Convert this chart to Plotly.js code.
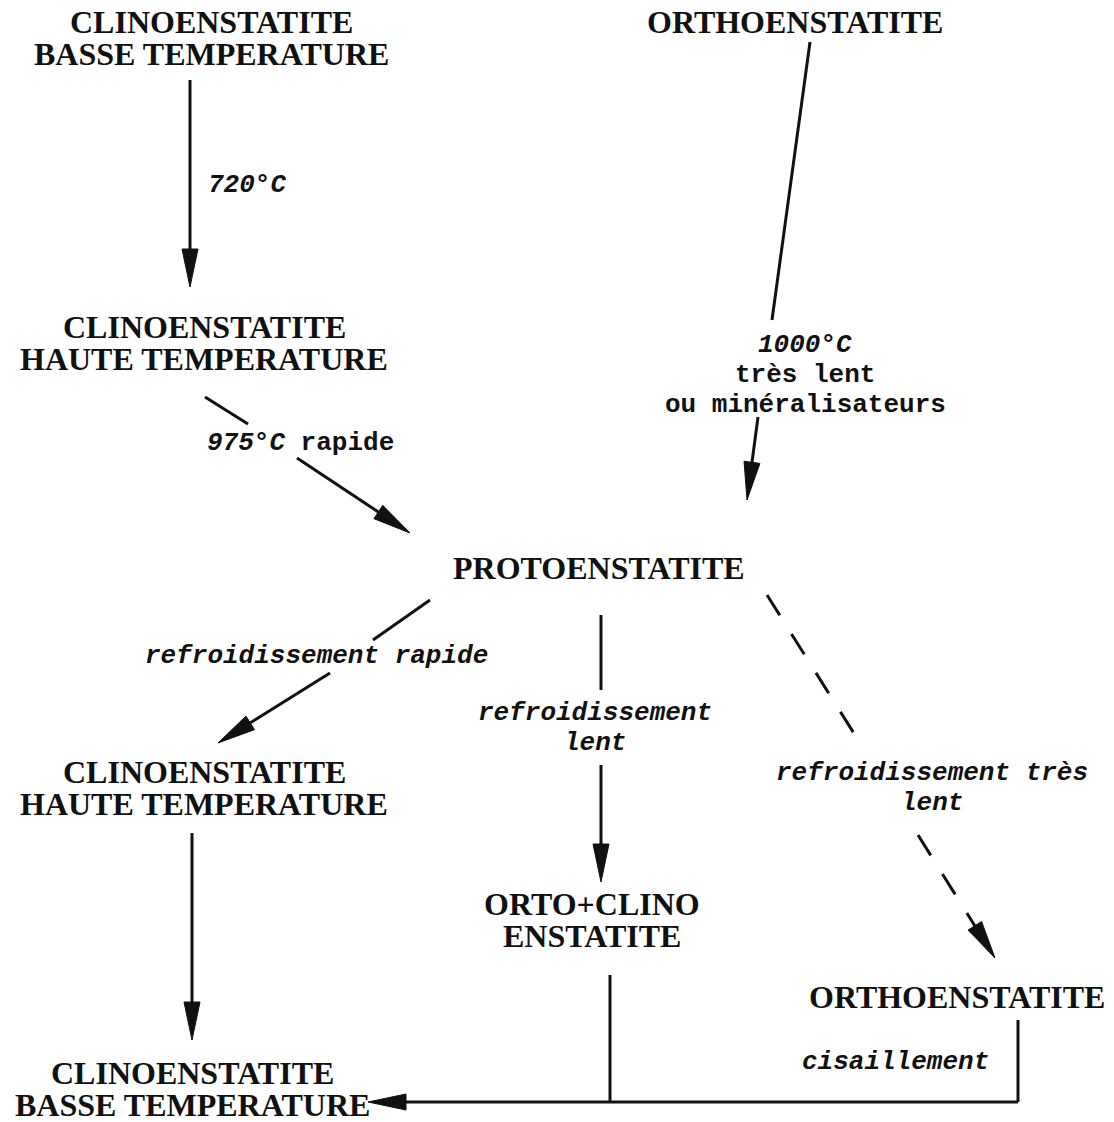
<!DOCTYPE html>
<html><head><meta charset="utf-8">
<script src="https://cdn.plot.ly/plotly-3.0.1.min.js"></script>
<style>html,body{margin:0;padding:0;background:#fff}</style>
</head><body><div id="chart" style="width:1114px;height:1122px"></div>
<script>
// ---- Diagram content ----
const nodeLines = [
  ["CLINOENSTATITE", "BASSE TEMPERATURE"],
  ["ORTHOENSTATITE"],
  ["CLINOENSTATITE", "HAUTE TEMPERATURE"],
  ["PROTOENSTATITE"],
  ["CLINOENSTATITE", "HAUTE TEMPERATURE"],
  ["ORTO+CLINO", "ENSTATITE"],
  ["ORTHOENSTATITE"],
  ["CLINOENSTATITE", "BASSE TEMPERATURE"]
];
const nodeX = [211, 795, 204, 599, 204, 592, 957, 192];
const nodeY = [22, 22, 327, 568, 772, 904, 997, 1073];

const edgeLabelLines = [
  ["<i>720°C</i>"],
  ["<i>975°C</i> rapide"],
  ["<i>1000°C</i>", "très lent", "ou minéralisateurs"],
  ["<i>refroidissement rapide</i>"],
  ["<i>refroidissement</i>", "<i>lent</i>"],
  ["<i>refroidissement très</i>", "<i>lent</i>"],
  ["<i>cisaillement</i>"]
];
const edgeLabelX = [207, 300, 805, 316, 595, 932, 895];
const edgeLabelY = [185, 443, 345, 656, 713, 773, 1062];
const edgeLabelAnchor = ["left", "center", "center", "center", "center", "center", "center"];

// segments: start x, start y, end x, end y
const segX0 = [190, 205, 297, 810, 758, 430, 330, 601, 601, 767, 918, 192, 610, 1018, 1018];
const segY0 = [80, 397, 458, 42, 417, 600, 673, 615, 765, 595, 835, 833, 975, 1020, 1102];
const segX1 = [190, 248, 410, 772, 747, 373, 218, 601, 601, 855, 995, 192, 610, 1018, 368];
const segY1 = [287, 424, 533, 320, 500, 640, 743, 690, 882, 735, 958, 1040, 1102, 1102, 1102];
const segHead = [1, 0, 1, 0, 1, 0, 1, 0, 1, 0, 1, 1, 0, 0, 1];
const segDash = [0, 0, 0, 0, 0, 0, 0, 0, 0, 1, 1, 0, 0, 0, 0];

// ---- Styles ----
const W = 1114, H = 1122;
const serif = {family: "Liberation Serif, Times New Roman, serif", size: 32, color: "#111", weight: "bold"};
const mono = {family: "Liberation Mono, Courier New, monospace", size: 26, color: "#111", weight: "bold"};
const nodeLineGap = 32, labelLineGap = 30;
const headLen = 38, headHalf = 8, lineW = 3;

const annotations = [];
nodeLines.forEach((lines, i) => {
  lines.forEach((t, k) => {
    annotations.push({x: nodeX[i], y: nodeY[i] + k * nodeLineGap, xref: "x", yref: "y",
      text: t, showarrow: false, xanchor: "center", yanchor: "middle", valign: "middle",
      height: 30, font: serif, borderpad: 0});
  });
});
edgeLabelLines.forEach((lines, i) => {
  lines.forEach((t, k) => {
    annotations.push({x: edgeLabelX[i], y: edgeLabelY[i] + k * labelLineGap, xref: "x", yref: "y",
      text: t, showarrow: false, xanchor: edgeLabelAnchor[i], yanchor: "middle", valign: "middle",
      height: 28, font: mono, borderpad: 0});
  });
});

const shapes = [];
for (let i = 0; i < segX0.length; i++) {
  const x0 = segX0[i], y0 = segY0[i], x1 = segX1[i], y1 = segY1[i];
  const dx = x1 - x0, dy = y1 - y0, len = Math.hypot(dx, dy);
  const ux = dx / len, uy = dy / len;
  let ex = x1, ey = y1;
  if (segHead[i]) { ex = x1 - ux * (headLen - 4); ey = y1 - uy * (headLen - 4); }
  shapes.push({type: "line", xref: "x", yref: "y", x0: x0, y0: y0, x1: ex, y1: ey,
    line: {color: "#111", width: lineW, dash: segDash[i] ? "24px,22px" : "solid"}});
  if (segHead[i]) {
    const bx = x1 - ux * headLen, by = y1 - uy * headLen;
    const px = -uy * headHalf, py = ux * headHalf;
    shapes.push({type: "path", xref: "x", yref: "y",
      path: `M${x1},${y1} L${bx + px},${by + py} L${bx - px},${by - py} Z`,
      fillcolor: "#111", line: {color: "#111", width: 1}});
  }
}

const layout = {
  width: W, height: H, margin: {l: 0, r: 0, t: 0, b: 0},
  paper_bgcolor: "#fff", plot_bgcolor: "#fff", showlegend: false,
  xaxis: {range: [0, W], visible: false, fixedrange: true},
  yaxis: {range: [H, 0], visible: false, fixedrange: true},
  annotations: annotations, shapes: shapes
};
Plotly.newPlot("chart", [{x: [], y: [], type: "scatter", mode: "lines", hoverinfo: "skip"}], layout,
  {staticPlot: true, displayModeBar: false});
</script></body></html>
